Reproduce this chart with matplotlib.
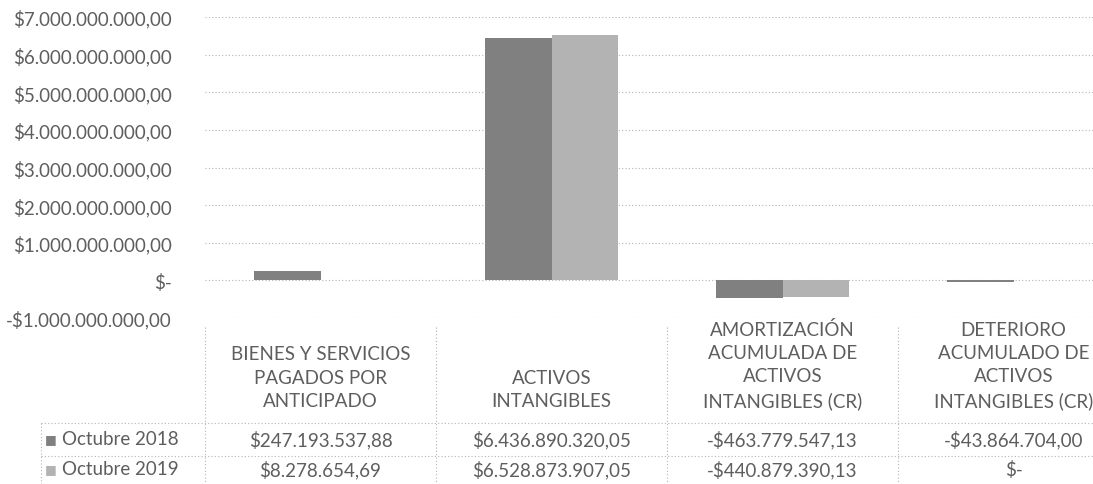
import matplotlib
matplotlib.use("Agg")
import matplotlib.pyplot as plt
from matplotlib.transforms import blended_transform_factory
from matplotlib.lines import Line2D
import numpy as np

# data
categories = ["BIENES Y SERVICIOS\nPAGADOS POR\nANTICIPADO",
              "ACTIVOS\nINTANGIBLES",
              "AMORTIZACIÓN\nACUMULADA DE\nACTIVOS\nINTANGIBLES (CR)",
              "DETERIORO\nACUMULADO DE\nACTIVOS\nINTANGIBLES (CR)"]
series_names = ["Octubre 2018", "Octubre 2019"]
oct_2018 = [247193537.88, 6436890320.05, -463779547.13, -43864704.00]
oct_2019 = [8278654.69, 6528873907.05, -440879390.13, 0.0]
y_ticks = [-1e9, 0, 1e9, 2e9, 3e9, 4e9, 5e9, 6e9, 7e9]

colors = ["#808080", "#b3b3b3"]
text_col = "#5e5e5e"
line_col = "#b5b5b5"

plt.rcParams['font.family'] = ['Lato', 'DejaVu Sans']


def money(v):
    if v == 0:
        return "$-"
    s = f"{abs(v):,.2f}".replace(",", "X").replace(".", ",").replace("X", ".")
    return ("-$" if v < 0 else "$") + s


W, H = 1093, 485
fig = plt.figure(figsize=(W / 100, H / 100), dpi=100)


def fy(px):
    return 1 - px / H


ax = fig.add_axes([205 / W, fy(319), (1129 - 205) / W, (319 - 18) / H])

x = np.arange(len(categories))
bw = 0.286
ax.bar(x - bw / 2, oct_2018, bw, color=colors[0], zorder=3)
ax.bar(x + bw / 2, oct_2019, bw, color=colors[1], zorder=3)

fs = 13.5
ax.set_xlim(-0.5, len(categories) - 0.5)
ax.set_ylim(-1e9, 7e9)
ax.set_yticks(y_ticks)
ax.set_yticklabels([money(t) for t in y_ticks], color=text_col, fontsize=fs)
ax.tick_params(axis='y', length=0, pad=24)
ax.set_xticks([])
ax.grid(axis='y', linestyle=(0, (1, 2)), color=line_col, linewidth=0.8, zorder=0)
for s in ax.spines.values():
    s.set_visible(False)

# data table below the plot
tr = blended_transform_factory(ax.transData, fig.transFigure)

# column borders
for b in np.arange(len(categories)) - 0.5:
    fig.add_artist(Line2D([b, b], [fy(328), fy(H)], transform=tr,
                          color=line_col, linestyle=(0, (1, 2)), linewidth=0.8))
for py in [424, 457]:
    fig.add_artist(Line2D([41 / W, 1], [fy(py), fy(py)], transform=fig.transFigure,
                          color=line_col, linestyle=(0, (1, 2)), linewidth=0.8))
fig.add_artist(Line2D([41 / W, 41 / W], [fy(424), fy(H)], transform=fig.transFigure,
                      color=line_col, linestyle=(0, (1, 2)), linewidth=0.8))

for i, cat in enumerate(categories):
    fig.text(i, fy(410), cat, transform=tr, ha='center', va='bottom',
             fontsize=fs, color=text_col, linespacing=1.45)

row_y = [440, 470]
for r, (name, vals) in enumerate(zip(series_names, [oct_2018, oct_2019])):
    fig.text(45 / W, fy(row_y[r]), "■", ha='left', va='center',
             fontsize=9, color=colors[r], family=['DejaVu Sans'])
    fig.text(62 / W, fy(row_y[r]), name, ha='left', va='center',
             fontsize=fs, color=text_col)
    for i, v in enumerate(vals):
        fig.text(i, fy(row_y[r]), money(v), transform=tr, ha='center',
                 va='center', fontsize=fs, color=text_col)

fig.savefig("out.png", dpi=100)
